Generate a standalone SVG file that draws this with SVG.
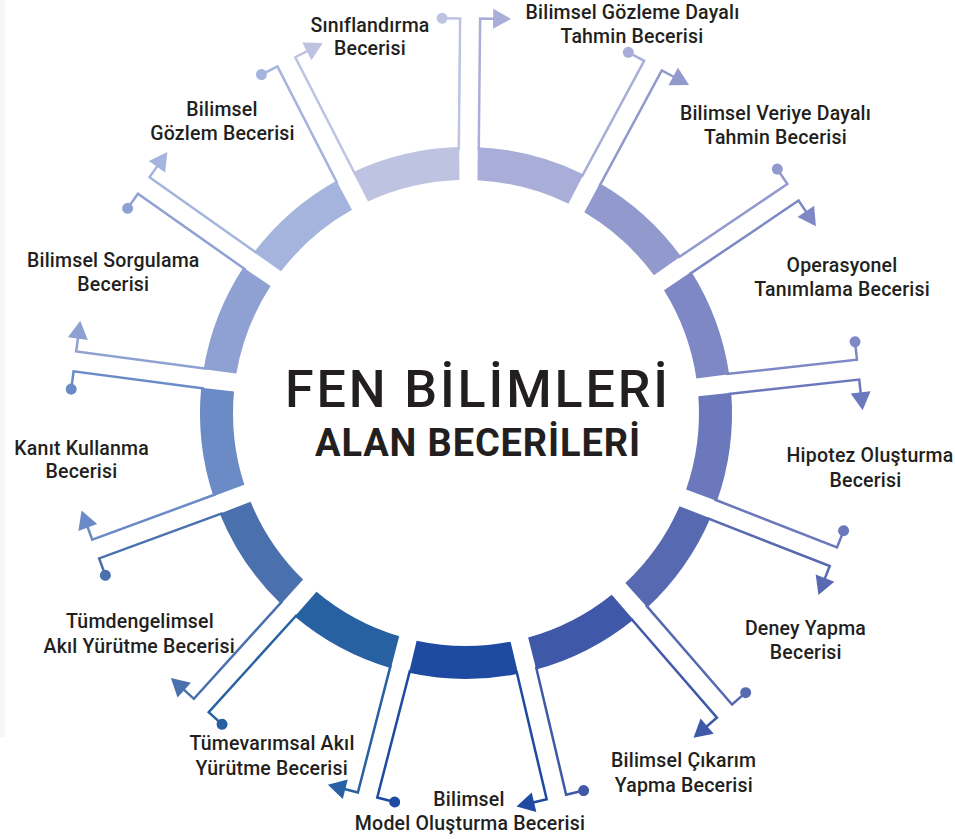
<svg xmlns="http://www.w3.org/2000/svg" xmlns:xlink="http://www.w3.org/1999/xlink" width="955" height="839" viewBox="0 0 955 839">
<style>
.lbl{font-family:Roboto,"Liberation Sans",sans-serif;font-weight:500;font-size:19.5px;letter-spacing:0.2px;fill:#231f20;text-anchor:middle}
.ttl{font-family:Roboto,"Liberation Sans",sans-serif;fill:#231f20;text-anchor:middle}
.ln{fill:none;stroke-width:2.5;stroke-linejoin:miter}
</style>
<defs>
<path id="seg" d="M9 -265.848 A266 266 0 0 1 115.065 -239.825 L100.228 -210.341 A233 233 0 0 0 9 -232.826 Z"/>
<g id="dotline"><path class="ln" d="M-10 -263 V-394.5 H-28"/><circle cx="-28" cy="-394.5" r="5.5" stroke="none"/></g>
<g id="arrowline"><path class="ln" d="M10 -263 V-394.5 H24"/><path d="M23 -404.5 L41 -394.5 L23 -384.5 Z" stroke="none"/></g>
</defs>
<rect width="955" height="839" fill="#ffffff"/>
<rect x="0" y="0" width="5" height="737" fill="#f6f6f4"/>

<g id="n1"><use xlink:href="#seg" fill="#bec3e2" transform="translate(466 413) rotate(-27.09)"/>
<text class="lbl" x="370" y="31.5">Sınıflandırma</text><text class="lbl" x="370" y="55">Becerisi</text></g>
<g id="n2"><use xlink:href="#seg" fill="#a8aed8" transform="translate(466 413) rotate(0.6)"/>
<text class="lbl" x="632.5" y="19">Bilimsel Gözleme Dayalı</text><text class="lbl" x="632" y="42.7">Tahmin Becerisi</text></g>
<g id="n3"><use xlink:href="#seg" fill="#9299cd" transform="translate(466 413) rotate(28.29)"/>
<text class="lbl" x="775.5" y="120">Bilimsel Veriye Dayalı</text><text class="lbl" x="775.5" y="144">Tahmin Becerisi</text></g>
<g id="n4"><use xlink:href="#seg" fill="#7e88c4" transform="translate(466 413) rotate(55.98)"/>
<text class="lbl" x="842" y="272.3">Operasyonel</text><text class="lbl" x="842" y="296">Tanımlama Becerisi</text></g>
<g id="n5"><use xlink:href="#seg" fill="#6b79bc" transform="translate(466 413) rotate(83.68)"/>
<text class="lbl" x="870" y="462.3">Hipotez Oluşturma</text><text class="lbl" x="865.5" y="486.7">Becerisi</text></g>
<g id="n6"><use xlink:href="#seg" fill="#5769b1" transform="translate(466 413) rotate(111.37)"/>
<text class="lbl" x="805.5" y="635">Deney Yapma</text><text class="lbl" x="805.8" y="659">Becerisi</text></g>
<g id="n7"><use xlink:href="#seg" fill="#3f59a8" transform="translate(466 413) rotate(139.06)"/>
<text class="lbl" x="683.7" y="767.3">Bilimsel Çıkarım</text><text class="lbl" x="683.8" y="791.7">Yapma Becerisi</text></g>
<g id="n8"><use xlink:href="#seg" fill="#1f4aa1" transform="translate(466 413) rotate(166.75)"/>
<text class="lbl" x="469" y="806">Bilimsel</text><text class="lbl" x="470" y="830">Model Oluşturma Becerisi</text></g>
<g id="n9"><use xlink:href="#seg" fill="#2761a2" transform="translate(466 413) rotate(194.45)"/>
<text class="lbl" x="272" y="750">Tümevarımsal Akıl</text><text class="lbl" x="271.7" y="775">Yürütme Becerisi</text></g>
<g id="n10"><use xlink:href="#seg" fill="#4a70ae" transform="translate(466 413) rotate(222.14)"/>
<text class="lbl" x="140" y="628.3">Tümdengelimsel</text><text class="lbl" x="139.2" y="653.3">Akıl Yürütme Becerisi</text></g>
<g id="n11"><use xlink:href="#seg" fill="#6b8bc7" transform="translate(466 413) rotate(249.83)"/>
<text class="lbl" x="81.7" y="455">Kanıt Kullanma</text><text class="lbl" x="81.5" y="478.3">Becerisi</text></g>
<g id="n12"><use xlink:href="#seg" fill="#8ea1d2" transform="translate(466 413) rotate(277.52)"/>
<text class="lbl" x="113.3" y="266.7">Bilimsel Sorgulama</text><text class="lbl" x="113.3" y="290.7">Becerisi</text></g>
<g id="n13"><use xlink:href="#seg" fill="#a4b4dd" transform="translate(466 413) rotate(305.22)"/>
<text class="lbl" x="222" y="116">Bilimsel</text><text class="lbl" x="222.5" y="140">Gözlem Becerisi</text></g>

<g id="title">
<text class="ttl" x="476.5" y="406.5" font-size="52" font-weight="500" textLength="383" lengthAdjust="spacing">FEN BİLİMLERİ</text>
<text class="ttl" x="477.5" y="455.5" font-size="38" font-weight="700" textLength="325" lengthAdjust="spacing">ALAN BECERİLERİ</text>
</g>

<g id="connectors">
<use xlink:href="#dotline" fill="#bec3e2" stroke="#bec3e2" transform="translate(466 413) rotate(0.6)"/>
<use xlink:href="#arrowline" fill="#a8aed8" stroke="#a8aed8" transform="translate(466 413) rotate(0.6)"/>
<use xlink:href="#dotline" fill="#a8aed8" stroke="#a8aed8" transform="translate(466 413) rotate(28.29)"/>
<use xlink:href="#arrowline" fill="#9299cd" stroke="#9299cd" transform="translate(466 413) rotate(28.29)"/>
<use xlink:href="#dotline" fill="#9299cd" stroke="#9299cd" transform="translate(466 413) rotate(55.98)"/>
<use xlink:href="#arrowline" fill="#7e88c4" stroke="#7e88c4" transform="translate(466 413) rotate(55.98)"/>
<use xlink:href="#dotline" fill="#7e88c4" stroke="#7e88c4" transform="translate(466 413) rotate(83.68)"/>
<use xlink:href="#arrowline" fill="#6b79bc" stroke="#6b79bc" transform="translate(466 413) rotate(83.68)"/>
<use xlink:href="#dotline" fill="#6b79bc" stroke="#6b79bc" transform="translate(466 413) rotate(111.37)"/>
<use xlink:href="#arrowline" fill="#5769b1" stroke="#5769b1" transform="translate(466 413) rotate(111.37)"/>
<use xlink:href="#dotline" fill="#5769b1" stroke="#5769b1" transform="translate(466 413) rotate(139.06)"/>
<use xlink:href="#arrowline" fill="#3f59a8" stroke="#3f59a8" transform="translate(466 413) rotate(139.06)"/>
<use xlink:href="#dotline" fill="#3f59a8" stroke="#3f59a8" transform="translate(466 413) rotate(166.75)"/>
<use xlink:href="#arrowline" fill="#1f4aa1" stroke="#1f4aa1" transform="translate(466 413) rotate(166.75)"/>
<use xlink:href="#dotline" fill="#1f4aa1" stroke="#1f4aa1" transform="translate(466 413) rotate(194.45)"/>
<use xlink:href="#arrowline" fill="#2761a2" stroke="#2761a2" transform="translate(466 413) rotate(194.45)"/>
<use xlink:href="#dotline" fill="#2761a2" stroke="#2761a2" transform="translate(466 413) rotate(222.14)"/>
<use xlink:href="#arrowline" fill="#4a70ae" stroke="#4a70ae" transform="translate(466 413) rotate(222.14)"/>
<use xlink:href="#dotline" fill="#4a70ae" stroke="#4a70ae" transform="translate(466 413) rotate(249.83)"/>
<use xlink:href="#arrowline" fill="#6b8bc7" stroke="#6b8bc7" transform="translate(466 413) rotate(249.83)"/>
<use xlink:href="#dotline" fill="#6b8bc7" stroke="#6b8bc7" transform="translate(466 413) rotate(277.52)"/>
<use xlink:href="#arrowline" fill="#8ea1d2" stroke="#8ea1d2" transform="translate(466 413) rotate(277.52)"/>
<use xlink:href="#dotline" fill="#8ea1d2" stroke="#8ea1d2" transform="translate(466 413) rotate(305.22)"/>
<use xlink:href="#arrowline" fill="#a4b4dd" stroke="#a4b4dd" transform="translate(466 413) rotate(305.22)"/>
<use xlink:href="#dotline" fill="#a4b4dd" stroke="#a4b4dd" transform="translate(466 413) rotate(332.91)"/>
<use xlink:href="#arrowline" fill="#bec3e2" stroke="#bec3e2" transform="translate(466 413) rotate(332.91)"/>
</g>
</svg>
